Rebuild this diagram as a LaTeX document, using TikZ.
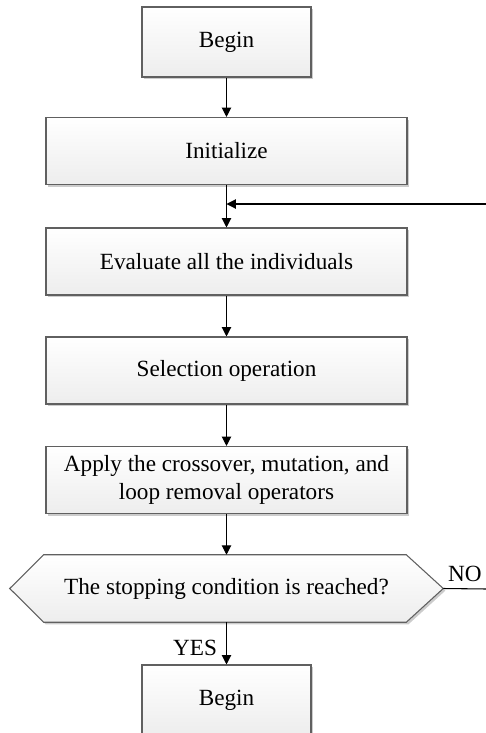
\documentclass[tikz,border=0pt]{standalone}
\usepackage{fontspec}
\setmainfont{Liberation Serif}
\usetikzlibrary{arrows.meta,shadows}
\begin{document}
\begin{tikzpicture}[x=0.75pt,y=-0.75pt,
  every node/.style={font=\fontsize{17.4pt}{21pt}\selectfont},
  procbox/.style={draw=gray!75!black, line width=0.8pt, top color=white, bottom color=gray!14,
    drop shadow={shadow xshift=1.6pt, shadow yshift=-1.6pt, fill=gray!40, opacity=1},
    minimum width=361*0.75pt, minimum height=67*0.75pt, inner sep=0pt, align=center},
  smallbox/.style={procbox, minimum width=169*0.75pt, minimum height=70*0.75pt},
  flow/.style={line width=0.8pt, -{Triangle[length=7pt,width=7pt]}},
  plain/.style={line width=0.8pt}]
\useasboundingbox (0,0) rectangle (486,733);
\clip (0,0) rectangle (486,733);
\node[smallbox] (begin) at (226.5,42) {Begin};
\node[procbox] (init) at (226.5,151) {Initialize};
\node[procbox] (eval) at (226.5,261.5) {Evaluate all the individuals};
\node[procbox] (sel) at (226.5,370.5) {Selection operation};
\node[procbox] (apply) at (226.5,480) {Apply the crossover, mutation, and\\loop removal operators};
\node[minimum width=433*0.75pt, minimum height=67*0.75pt, inner sep=0pt] (dec) at (226.5,588.5) {};
\path[draw=gray!75!black, line width=0.8pt, top color=white, bottom color=gray!14,
    drop shadow={shadow xshift=1.6pt, shadow yshift=-1.6pt, fill=gray!40, opacity=1}]
  (dec.west) -- ([xshift=34*0.75pt]dec.north west) -- ([xshift=-37*0.75pt]dec.north east)
  -- (dec.east) -- ([xshift=-37*0.75pt]dec.south east) -- ([xshift=34*0.75pt]dec.south west) -- cycle;
\node at (dec) {The stopping condition is reached?};
\node[smallbox] (end) at (226.5,700) {Begin};
\coordinate (merge) at (226.5,204);
\coordinate (loopin) at (487,204);
\coordinate (noend) at (487,589);
\draw[flow] (begin) -- (init);
\draw[plain] (init) -- (merge);
\draw[flow] (merge) -- (eval);
\draw[flow] (loopin) -- (merge);
\draw[flow] (eval) -- (sel);
\draw[flow] (sel) -- (apply);
\draw[flow] (apply) -- (dec);
\draw[flow] (dec) -- (end);
\draw[plain] (dec.east) -- (noend);
\node[anchor=base] (no) at (465,581) {NO};
\node[anchor=base] (yes) at (195,655) {YES};
\end{tikzpicture}
\end{document}
